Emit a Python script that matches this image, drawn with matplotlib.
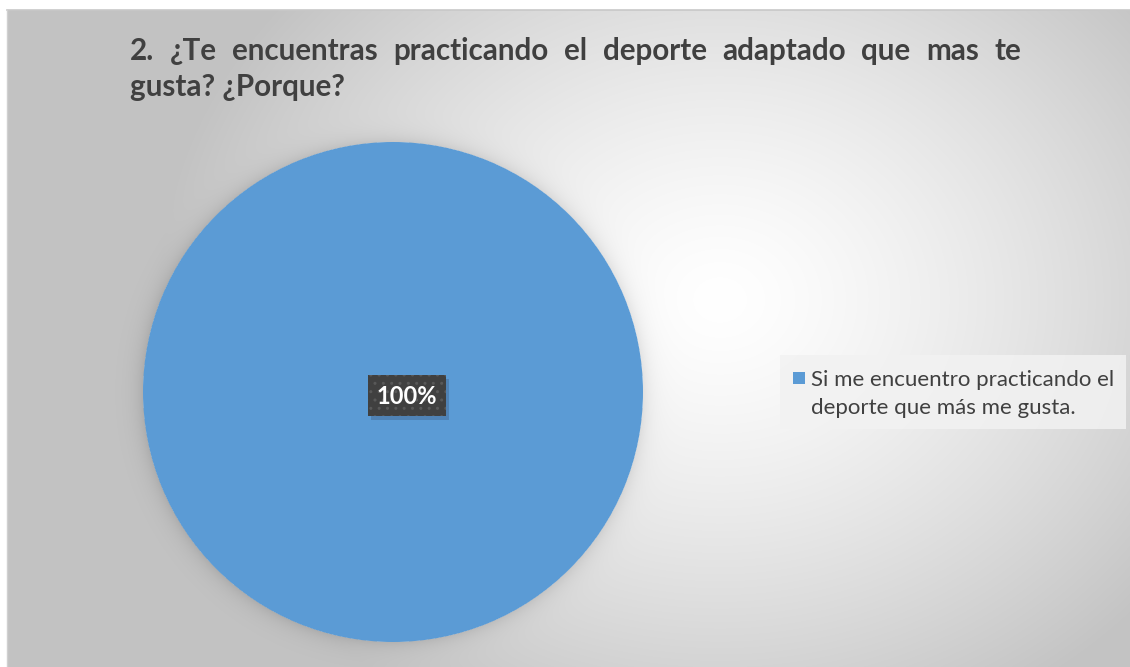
import numpy as np
import matplotlib
matplotlib.use("Agg")
import matplotlib.pyplot as plt
from matplotlib.patches import Rectangle

# Data
categories = ["Si me encuentro practicando el\ndeporte que más me gusta."]
values = [100]
colors = ["#5B9BD5"]
title_line1 = ["2.", "¿Te", "encuentras", "practicando", "el", "deporte",
               "adaptado", "que", "mas", "te"]
title_line2 = "gusta? ¿Porque?"

W, H = 1130, 667
fig = plt.figure(figsize=(W / 100, H / 100), dpi=100)
fig.patch.set_facecolor("white")

# Background panel with radial gradient and soft halo around the pie
bg = fig.add_axes([0, 0, 1, 1])
bg.set_xlim(0, W)
bg.set_ylim(H, 0)
bg.axis("off")

x0, y0 = 7, 10
yy, xx = np.mgrid[0:H, 0:W].astype(float) + 0.5
gcx, gcy = 720.0, 300.0
r = np.sqrt(((xx - gcx) / 560.0) ** 2 + ((yy - gcy) / 470.0) ** 2)
r = np.clip(r, 0, 1)
shade = 255 - 60 * r ** 1.35
pcx, pcy, pr = 393.0, 392.0, 250.0
d = np.sqrt((xx - pcx) ** 2 + (yy - pcy) ** 2) - pr
halo = np.where(d > 0, 22 * np.exp(-d / 9.0), 0)
shade = shade - halo
img = np.repeat((shade / 255.0)[:, :, None], 3, axis=2)
mask = (xx < x0) | (yy < y0)
img[mask] = 1.0
bg.imshow(img, extent=(0, W, H, 0), interpolation="nearest", zorder=0)
bg.plot([x0, W], [y0, y0], color="#c8c8c8", lw=1.2, zorder=1)
bg.plot([x0, x0], [y0, H], color="#d0d0d0", lw=1.0, zorder=1)

# Pie
pax = fig.add_axes([(pcx - pr) / W, (H - pcy - pr) / H, 2 * pr / W, 2 * pr / H])
wedges, _ = pax.pie(values, colors=colors, startangle=90, counterclock=False,
                    radius=1.0, wedgeprops=dict(linewidth=0))
pax.set_xlim(-1, 1)
pax.set_ylim(-1, 1)
pax.set_aspect("equal")
pax.axis("off")

# Overlay for title, data label and legend
ov = fig.add_axes([0, 0, 1, 1])
ov.set_xlim(0, W)
ov.set_ylim(H, 0)
ov.axis("off")
ov.patch.set_alpha(0)

# Title, justified on the first line
tcolor = "#404040"
tfont = dict(family="Lato", weight="bold", size=21.3, color=tcolor)
left, right = 130, 1021
renderer = fig.canvas.get_renderer()
texts = [ov.text(0, 60, w, va="baseline", ha="left", **tfont) for w in title_line1]
widths = [t.get_window_extent(renderer=renderer).width for t in texts]
gap = (right - left - sum(widths)) / (len(texts) - 1)
xpos = left
for t, w in zip(texts, widths):
    t.set_x(xpos)
    xpos += w + gap
ov.text(left, 96, title_line2, va="baseline", ha="left", **tfont)

# Data label
lx, ly = 407, 395
ov.add_patch(Rectangle((371, 379), 78, 41, facecolor="#4a78a8", edgecolor="none",
                       alpha=0.7, zorder=2))
ov.add_patch(Rectangle((368, 375), 78, 41, facecolor="#404040", edgecolor="#585858",
                       hatch="..", linewidth=0, zorder=3))
ov.text(lx, ly + 1, f"{values[0]}%", ha="center", va="center", color="white",
        family="Lato", weight="bold", size=17, zorder=4)

# Legend
ov.add_patch(Rectangle((780, 355), 346, 74, facecolor="#f2f2f2", edgecolor="none",
                       alpha=0.85, zorder=2))
ov.add_patch(Rectangle((793, 372), 12, 12, facecolor=colors[0], edgecolor="none", zorder=3))
lines = categories[0].split("\n")
for i, line in enumerate(lines):
    ov.text(811, 386 + 28 * i, line, ha="left", va="baseline", color=tcolor,
            family="Lato", size=16, zorder=3)

fig.savefig("out.png", dpi=100)
